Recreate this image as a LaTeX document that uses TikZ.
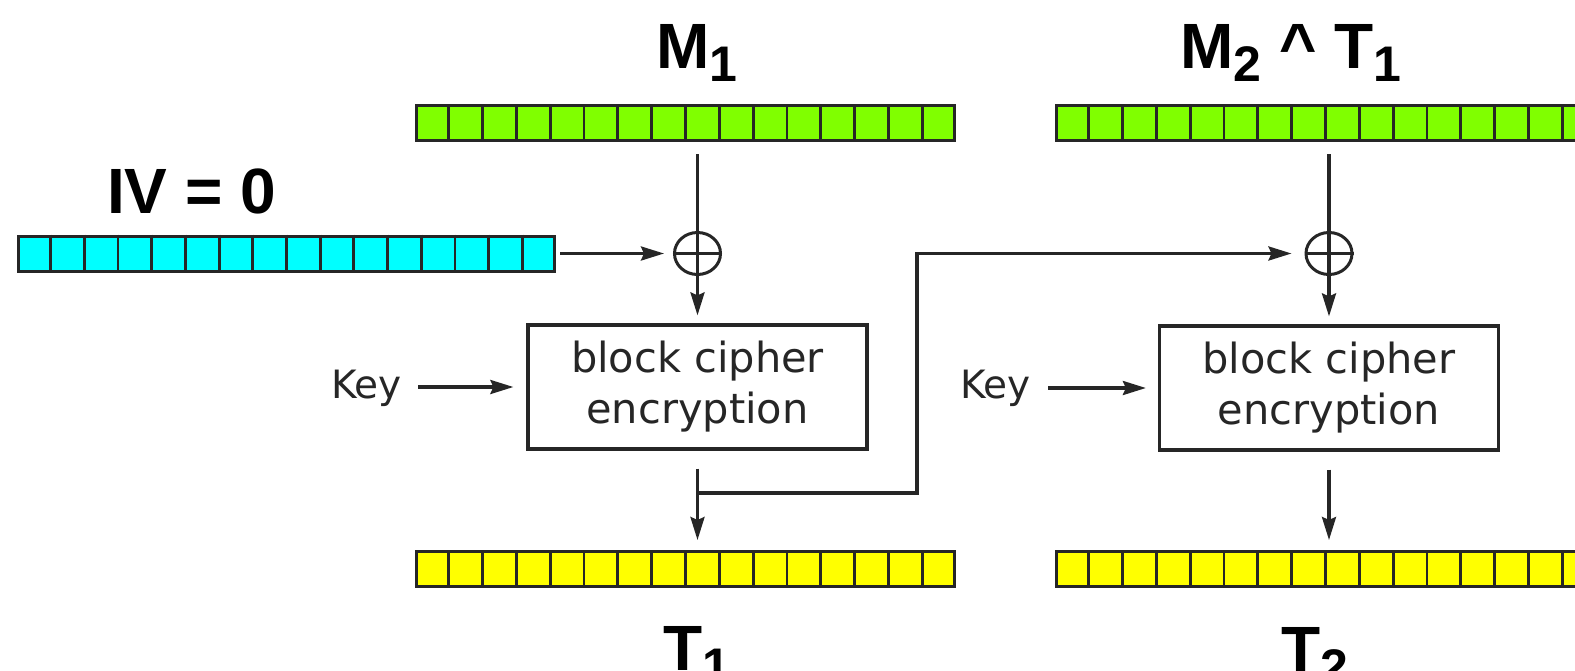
\documentclass[tikz,border=0pt]{standalone}
\usepackage{fontspec}
\setmainfont{Liberation Sans}
\newfontfamily\dvfont{DejaVu Sans}
\usetikzlibrary{arrows.meta,calc,shapes.geometric}
\definecolor{cellgreen}{RGB}{128,255,0}
\definecolor{cellcyan}{RGB}{0,255,255}
\definecolor{cellyellow}{RGB}{255,255,0}
\definecolor{ink}{RGB}{38,38,38}
\newcommand\lowsub[1]{\raisebox{-13pt}{\fontsize{50}{50}\selectfont #1}}
\begin{document}
\begin{tikzpicture}[x=1pt,y=-1pt,
  line/.style={draw=ink,line width=3.2pt},
  arr/.style={line,-{Stealth[length=23pt,width=14pt,inset=3pt]}},
  bar/.style={draw=ink,line width=3pt,minimum width=538pt,minimum height=35pt,inner sep=0pt,anchor=north west},
  divider/.style={draw=ink,line width=2.8pt},
  lbl/.style={font=\fontsize{64}{64}\selectfont\bfseries,inner sep=0pt,anchor=base},
  cipher/.style={draw=ink,line width=3.2pt,minimum width=339pt,minimum height=124pt,align=center,
    font=\dvfont\fontsize{41.5}{51}\selectfont,text=ink,inner sep=0pt},
  keytext/.style={font=\dvfont\fontsize{39}{39}\selectfont,text=ink,inner sep=0pt,anchor=base east},
  xor/.style={ellipse,draw=ink,line width=3pt,minimum width=46pt,minimum height=42pt,inner sep=0pt}]
\useasboundingbox (0,0) rectangle (1575,670);
\fill[white] (0,0) rectangle (1575,670);
\clip (0,0) rectangle (1575,670);

% bars
\node[bar,fill=cellgreen] (g1) at (415,104) {};
\node[bar,fill=cellgreen] (g2) at (1055,104) {};
\node[bar,fill=cellcyan,minimum width=536pt] (cy) at (17,234.5) {};
\node[bar,fill=cellyellow] (y1) at (415,550) {};
\node[bar,fill=cellyellow] (y2) at (1055,550) {};
\foreach \b in {g1,g2,cy,y1,y2}{
  \foreach \i in {1,...,15}
    \draw[divider] ($(\b.north west)!\i/16!(\b.north east)$) -- ($(\b.south west)!\i/16!(\b.south east)$);
}

% labels
\node[lbl] (m1) at (697,68) {M\lowsub{1}};
\node[lbl] (m2) at (1291,68) {M\lowsub{2} \textasciicircum{} T\lowsub{1}};
\node[lbl,anchor=base west] (iv) at (107,213) {IV = 0};
\node[lbl] (t1) at (697,670) {T\lowsub{1}};
\node[lbl] (t2) at (1315,671) {T\lowsub{2}};

% xor
\node[xor] (x1) at (697.5,253.5) {};
\node[xor] (x2) at (1329,253.5) {};
\draw[line] (x1.north) -- (x1.south);
\draw[line] (x1.west) -- (x1.east);
\draw[line] (x2.north) -- (x2.south);
\draw[line] (x2.west) -- (x2.east);

% cipher boxes
\node[cipher] (c1) at (697.5,387) {block cipher\\encryption};
\node[cipher] (c2) at (1329,388) {block cipher\\encryption};

% keys
\node[keytext] (k1) at (402,398) {Key};
\node[keytext] (k2) at (1031,398) {Key};
\coordinate (k1a) at (418,387);
\coordinate (k2a) at (1048,388);
\draw[arr,shorten >=13pt] (k1a) -- (c1.west);
\draw[arr,shorten >=12pt] (k2a) -- (c2.west);

% connectors
\draw[line,shorten <=12pt] (g1.south -| x1.north) -- (x1.north);
\draw[line,shorten <=12pt] (g2.south -| x2.north) -- (x2.north);
\draw[arr,shorten >=8pt] (x1.south) -- (c1.north);
\draw[arr,shorten >=8pt] (x2.south) -- (c2.north);
\draw[arr,shorten <=4pt,shorten >=9pt] (cy.east) -- (cy.east -| x1.west);
\draw[arr,shorten <=18pt,shorten >=10pt] (c1.south) -- (c1.south |- y1.north);
\draw[arr,shorten <=18pt,shorten >=10pt] (c2.south) -- (c2.south |- y2.north);

% feedback
\coordinate (j1) at (697.5,493);
\coordinate (fb1) at (917,493);
\coordinate (fb2) at (917,253.5);
\draw[arr,shorten >=13pt] (j1) -- (fb1) -- (fb2) -- (x2.west);
\end{tikzpicture}
\end{document}
